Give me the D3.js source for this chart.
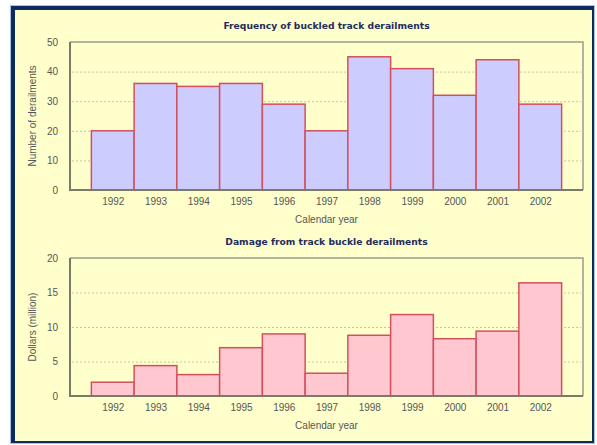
<!DOCTYPE html>
<html>
<head>
<meta charset="utf-8">
<script src="https://cdn.jsdelivr.net/npm/d3@7"></script>
<style>
  body { margin: 0; background: #fff; }
  svg { display: block; }
</style>
</head>
<body>
<script>
var width = 597, height = 445;

// data
var years = [1992, 1993, 1994, 1995, 1996, 1997, 1998, 1999, 2000, 2001, 2002];
var derailments = [20, 36, 35, 36, 29, 20, 45, 41, 32, 44, 29];
var damage = [2, 4.4, 3.1, 7, 9, 3.3, 8.8, 11.8, 8.3, 9.4, 16.4];
var freqTicks = [0, 10, 20, 30, 40, 50];
var damageTicks = [0, 5, 10, 15, 20];

var svg = d3.select("body").append("svg")
    .attr("width", width)
    .attr("height", height);

// frame
svg.append("rect")
    .attr("x", 10).attr("y", 5)
    .attr("width", 585).attr("height", 439)
    .style("fill", "#a9c4e0");
svg.append("rect")
    .attr("x", 11).attr("y", 6)
    .attr("width", 583).attr("height", 437)
    .style("fill", "#0e2a5e");
svg.append("rect")
    .attr("x", 15).attr("y", 10)
    .attr("width", 577).attr("height", 431)
    .style("fill", "#ffffcc");

function drawChart(opts) {
    var left = 70, right = 583;
    var top = opts.top, bottom = opts.bottom;

    var x = d3.scaleLinear()
        .domain([1991, 2003])
        .range([left, right]);

    var y = d3.scaleLinear()
        .domain([0, opts.max])
        .range([bottom, top]);

    var g = svg.append("g");

    // title
    g.append("text")
        .attr("x", (left + right) / 2)
        .attr("y", top - 13)
        .style("text-anchor", "middle")
        .style("font-family", "DejaVu Sans")
        .style("font-weight", "bold")
        .style("font-size", "9.2px")
        .style("fill", "#1f2d5c")
        .text(opts.title);

    // grid
    g.selectAll(".grid").data(opts.ticks.slice(1, -1))
      .enter().append("line")
        .attr("x1", left + 2).attr("x2", right - 2)
        .attr("y1", function (d) { return y(d) + 0.5; })
        .attr("y2", function (d) { return y(d) + 0.5; })
        .style("stroke", "#c4c4aa")
        .style("stroke-width", 1)
        .style("stroke-dasharray", "2,2");

    // plot box (top/right lighter)
    g.append("path")
        .attr("d", "M" + left + "," + top + "H" + right + "V" + bottom)
        .style("fill", "none")
        .style("stroke", "#9a9a90")
        .style("stroke-width", 1.5);

    // bars
    g.selectAll(".bar").data(opts.values)
      .enter().append("rect")
        .attr("x", function (d, i) { return x(years[i] - 0.5); })
        .attr("y", function (d) { return y(d); })
        .attr("width", function (d, i) { return x(years[i] + 0.5) - x(years[i] - 0.5); })
        .attr("height", function (d) { return bottom - y(d); })
        .style("fill", opts.fill)
        .style("stroke", opts.stroke)
        .style("stroke-width", 1.5);

    // axes
    var yAxis = d3.axisLeft(y)
        .tickValues(opts.ticks)
        .tickSize(0)
        .tickPadding(12);
    var gY = g.append("g")
        .attr("transform", "translate(" + left + ",0)")
        .call(yAxis);
    gY.select(".domain").remove();

    var xAxis = d3.axisBottom(x)
        .tickValues(years)
        .tickFormat(d3.format("d"))
        .tickSize(0)
        .tickPadding(8);
    var gX = g.append("g")
        .attr("transform", "translate(0," + bottom + ")")
        .call(xAxis);
    gX.select(".domain").remove();

    g.selectAll(".tick text")
        .style("font-family", "Liberation Sans")
        .style("font-size", "10px")
        .style("fill", "#555");

    // left / bottom axis lines
    g.append("path")
        .attr("d", "M" + left + "," + top + "V" + bottom + "H" + right)
        .style("fill", "none")
        .style("stroke", "#7a7a68")
        .style("stroke-width", 2);

    // axis labels
    g.append("text")
        .attr("x", (left + right) / 2)
        .attr("y", bottom + 33)
        .style("text-anchor", "middle")
        .style("font-family", "Liberation Sans")
        .style("font-size", "10px")
        .style("fill", "#555")
        .text("Calendar year");

    g.append("text")
        .attr("transform", "rotate(-90)")
        .attr("x", -(top + bottom) / 2)
        .attr("y", 36)
        .style("text-anchor", "middle")
        .style("font-family", "Liberation Sans")
        .style("font-size", "10px")
        .style("fill", "#555")
        .text(opts.ylabel);
}

drawChart({
    title: "Frequency of buckled track derailments",
    ylabel: "Number of derailments",
    values: derailments,
    ticks: freqTicks,
    max: 50,
    top: 42,
    bottom: 190,
    fill: "#ccccff",
    stroke: "#d2505e"
});

drawChart({
    title: "Damage from track buckle derailments",
    ylabel: "Dollars (million)",
    values: damage,
    ticks: damageTicks,
    max: 20,
    top: 258,
    bottom: 396,
    fill: "#ffc8d0",
    stroke: "#d2505e"
});
</script>
</body>
</html>
